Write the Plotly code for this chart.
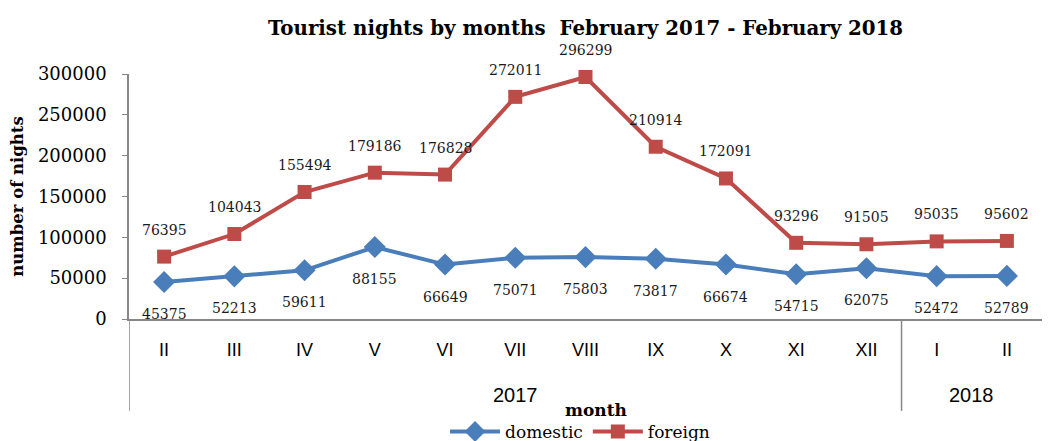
import plotly.graph_objects as go

months = ["II", "III", "IV", "V", "VI", "VII", "VIII", "IX", "X", "XI", "XII", "I", "II"]
years = ["2017"] * 11 + ["2018"] * 2
domestic = [45375, 52213, 59611, 88155, 66649, 75071, 75803, 73817, 66674, 54715, 62075, 52472, 52789]
foreign = [76395, 104043, 155494, 179186, 176828, 272011, 296299, 210914, 172091, 93296, 91505, 95035, 95602]

SERIF = "DejaVu Serif"
SANS = "Liberation Sans"
BLUE = "#4A7EBB"
RED = "#BE4B48"
AXIS = "#868686"

# page body has an 8px default margin, so the figure is 8px smaller
W, H = 1042, 433

idx = list(range(len(months)))

fig = go.Figure()
fig.add_trace(go.Scatter(
    x=idx, y=domestic, name="domestic", mode="lines+markers",
    line=dict(color=BLUE, width=4),
    marker=dict(symbol="diamond", size=17, color=BLUE),
    cliponaxis=False,
))
fig.add_trace(go.Scatter(
    x=idx, y=foreign, name="foreign", mode="lines+markers",
    line=dict(color=RED, width=4),
    marker=dict(symbol="square", size=14, color=RED),
    cliponaxis=False,
))

annotations = []
for i, v in zip(idx, domestic):
    annotations.append(dict(x=i, y=v, xref="x", yref="y", text=str(v), showarrow=False,
                            yshift=-32, font=dict(family=SERIF, size=14, color="#1a1a1a")))
for i, v in zip(idx, foreign):
    annotations.append(dict(x=i, y=v, xref="x", yref="y", text=str(v), showarrow=False,
                            yshift=27, font=dict(family=SERIF, size=14, color="#1a1a1a")))

# year group labels and dividers
shapes = []
groups = []
for i, yv in enumerate(years):
    if not groups or groups[-1][0] != yv:
        groups.append([yv, i, i])
    else:
        groups[-1][2] = i
for yv, a, b in groups:
    annotations.append(dict(x=(a + b) / 2, y=-0.31, xref="x", yref="paper", text=yv,
                            showarrow=False, yanchor="middle",
                            font=dict(family=SANS, size=20, color="black")))
    shapes.append(dict(type="line", xref="x", yref="paper", x0=a - 0.5, x1=a - 0.5,
                       y0=0, y1=-0.375, line=dict(color=AXIS, width=1.5)))

annotations.append(dict(x=0.5115, y=-0.371, xref="paper", yref="paper", text="<b>month</b>",
                        showarrow=False, yanchor="middle",
                        font=dict(family=SERIF, size=17, color="black")))

fig.update_layout(
    width=W, height=H,
    margin=dict(l=121, r=8, t=66, b=122, autoexpand=False),
    paper_bgcolor="white", plot_bgcolor="white",
    title=dict(text="<b>Tourist nights by months  February 2017 - February 2018</b>",
               x=0.5, xref="paper", xanchor="center", y=1 - 20 / H, yref="container",
               yanchor="middle",
               font=dict(family=SERIF, size=19.8, color="black")),
    legend=dict(orientation="h", x=0.494, xanchor="center", y=-0.461, yanchor="middle",
                itemwidth=50,
                font=dict(family=SERIF, size=17, color="black")),
    showlegend=True,
    annotations=annotations,
    shapes=shapes,
)
fig.update_yaxes(
    range=[0, 300000], dtick=50000, showgrid=False, zeroline=False,
    automargin=False, tickformat="d",
    showline=True, linecolor=AXIS, linewidth=1.5,
    ticks="outside", ticklen=5, tickcolor=AXIS, ticklabelstandoff=12,
    tickfont=dict(family=SERIF, size=18, color="black"),
    title=dict(text="<b>number of nights</b>", font=dict(family=SERIF, size=16.5, color="black"), standoff=10),
)
fig.update_xaxes(
    range=[-0.5, len(months) - 0.5], showgrid=False, zeroline=False,
    automargin=False,
    tickmode="array", tickvals=idx, ticktext=months,
    showline=True, linecolor=AXIS, linewidth=1.5, ticks="",
    ticklabelstandoff=14,
    tickfont=dict(family=SANS, size=18, color="black"),
)

fig.write_html("out.html")
